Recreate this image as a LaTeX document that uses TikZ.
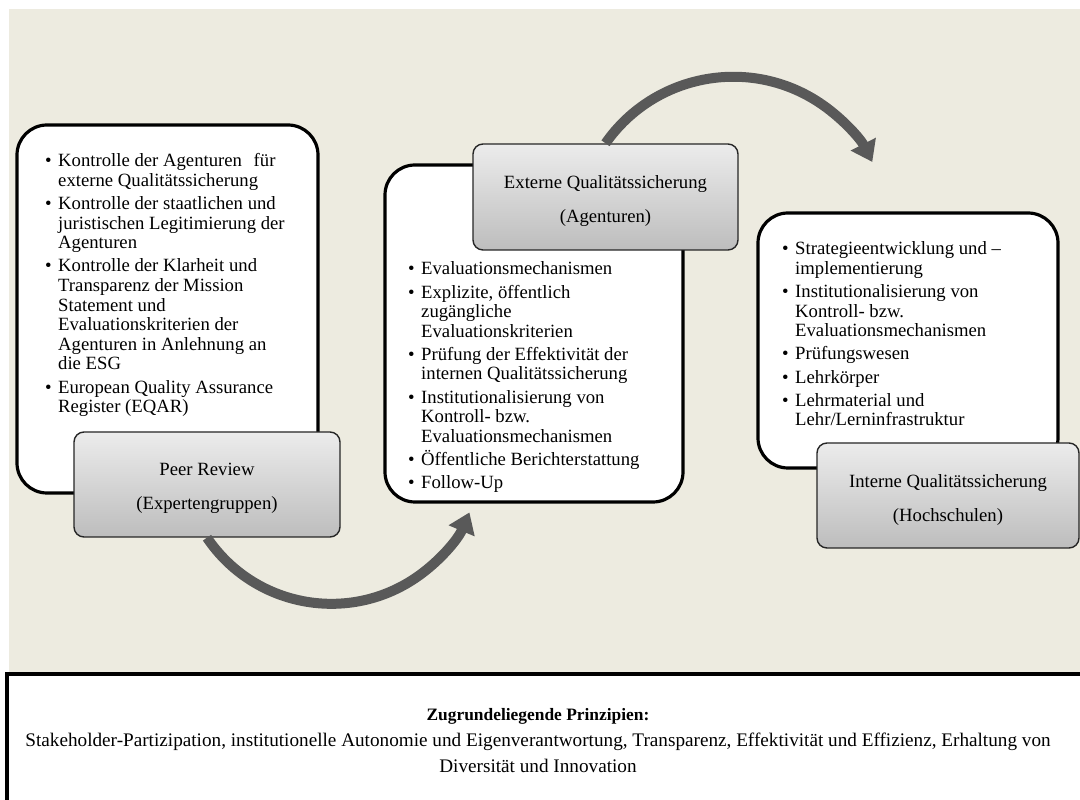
\documentclass[tikz,border=0pt]{standalone}
\usepackage{fontspec}
\setmainfont{Liberation Serif}
\usetikzlibrary{arrows.meta}

\definecolor{bgbeige}{RGB}{237,235,224}
\definecolor{arrowgray}{RGB}{89,89,89}
\definecolor{shadetop}{RGB}{236,236,236}
\definecolor{shadebot}{RGB}{189,189,189}

% text size of the boxes
\newcommand\boxfont{\fontsize{18.7}{19.6}\selectfont}
% one bullet point with hanging indent
\newcommand\bitem[1]{\par\hangindent=13pt\hangafter=1\noindent
  \makebox[13pt][l]{\textbullet}#1\par\vskip3.5pt}
% a top-aligned list block
\newcommand\itemlist[2]{\parbox[t]{#1}{\boxfont\lineskiplimit=-20pt
  \parskip=0pt\hbadness=10000 #2}}
% taller first line, moves the two-line titles slightly down
\newcommand\titlestrut{\rule{0pt}{21pt}}

\tikzset{
  x=1pt, y=1pt,
  wbox/.style={draw=black, line width=3.2pt, fill=white, rounded corners=30pt},
  gbox/.style={draw=black!85, line width=1.4pt, rounded corners=10pt,
    top color=shadetop, bottom color=shadebot, align=center,
    font=\fontsize{18.7}{34}\selectfont},
  listtext/.style={anchor=base west, inner sep=0pt},
  cyclearrow/.style={draw=arrowgray, line width=10pt,
    -{Triangle[width=27pt,length=20pt]}}
}

\begin{document}
\begin{tikzpicture}
\useasboundingbox (0,0) rectangle (1080,800);

% background panel
\fill[bgbeige] (9,126) rectangle (1080,791);

% principles panel along the bottom
\draw[line width=3.2pt, fill=white] (7,126) rectangle (1095,-15);
\node[align=center, font=\fontsize{19.2}{26}\selectfont] (prinzipien) at (538,59.5)
  {{\fontsize{17.4}{26}\selectfont\bfseries Zugrundeliegende Prinzipien:}\\
   Stakeholder-Partizipation, institutionelle Autonomie und Eigenverantwortung, Transparenz, Effektivität und Effizienz, Erhaltung von\\
   Diversität und Innovation};

% white content boxes
\node[wbox, minimum width=301pt, minimum height=368pt] (w1) at (167.5,491) {};
\node[wbox, minimum width=298pt, minimum height=337pt] (w2) at (534,466.5) {};
\node[wbox, minimum width=300pt, minimum height=255pt] (w3) at (908,459.5) {};

% bullet lists
\node[listtext] (l1) at (45,633) {\itemlist{270pt}{%
  \bitem{Kontrolle der Agenturen\hspace{7pt} für\\externe Qualitätssicherung}
  \bitem{Kontrolle der staatlichen und\\juristischen Legitimierung der\\Agenturen}
  \bitem{Kontrolle der Klarheit und\\Transparenz der Mission\\Statement und\\Evaluationskriterien der\\Agenturen in Anlehnung an\\die ESG}
  \bitem{European Quality Assurance\\Register (EQAR)}}};

\node[listtext] (l2) at (408,525) {\itemlist{270pt}{%
  \bitem{Evaluationsmechanismen}
  \bitem{Explizite, öffentlich\\zugängliche\\Evaluationskriterien}
  \bitem{Prüfung der Effektivität der\\internen Qualitätssicherung}
  \bitem{Institutionalisierung von\\Kontroll- bzw.\\Evaluationsmechanismen}
  \bitem{Öffentliche Berichterstattung}
  \bitem{Follow-Up}}};

\node[listtext] (l3) at (782,545) {\itemlist{270pt}{%
  \bitem{Strategieentwicklung und –\\implementierung}
  \bitem{Institutionalisierung von\\Kontroll- bzw.\\Evaluationsmechanismen}
  \bitem{Prüfungswesen}
  \bitem{Lehrkörper}
  \bitem{Lehrmaterial und\\Lehr/Lerninfrastruktur}}};

% shaded title boxes
\node[gbox, minimum width=266pt, minimum height=105pt] (pr) at (207,315.5)
  {\titlestrut Peer Review\\(Expertengruppen)};
\node[gbox, minimum width=265pt, minimum height=106pt] (eg) at (605.5,603)
  {\titlestrut Externe Qualitätssicherung\\(Agenturen)};
\node[gbox, minimum width=262pt, minimum height=105pt] (ig) at (948,304.5)
  {\titlestrut Interne Qualitätssicherung\\(Hochschulen)};

% curved arrows of the cycle
\draw[cyclearrow] (pr.south) arc[start angle=214, end angle=337, radius=150];
\draw[cyclearrow] (eg.north) arc[start angle=145, end angle=27, radius=156];
\end{tikzpicture}
\end{document}
